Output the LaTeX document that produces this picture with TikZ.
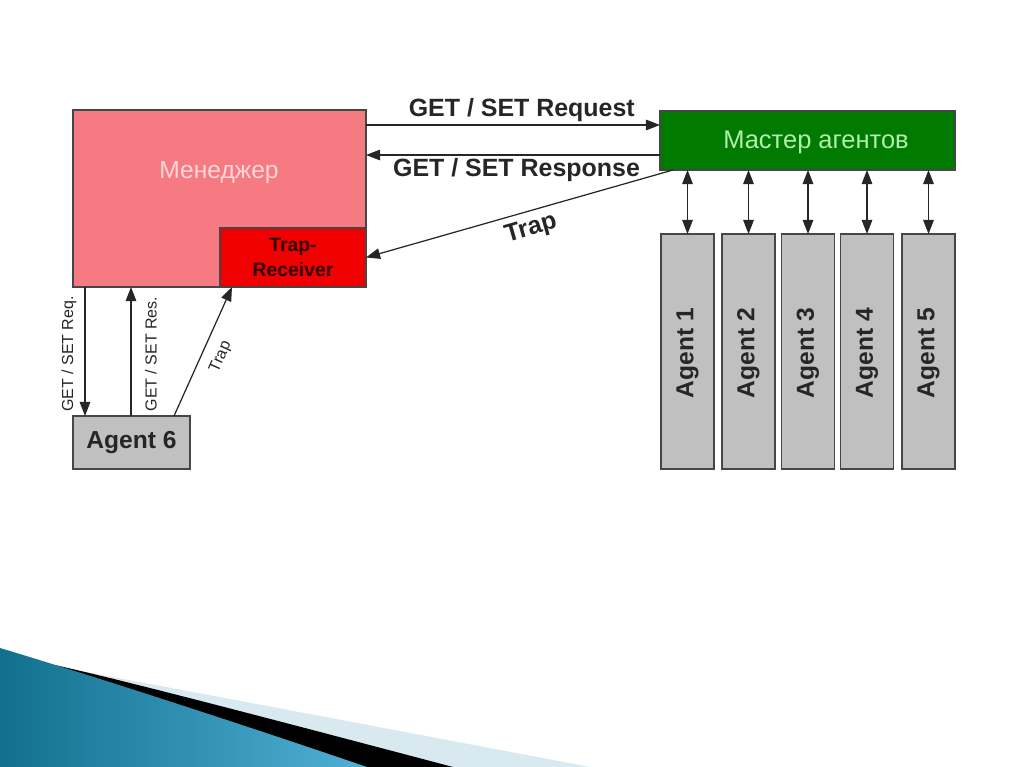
\documentclass[tikz,border=0pt]{standalone}
\usepackage{fontspec}
\setmainfont{Liberation Sans}
\usetikzlibrary{arrows.meta}
\definecolor{mgrpink}{RGB}{246,122,130}
\definecolor{trapred}{RGB}{240,0,0}
\definecolor{mastergreen}{RGB}{0,122,0}
\definecolor{agentgray}{RGB}{192,192,192}
\definecolor{edgegray}{RGB}{70,70,70}
\definecolor{pinktext}{RGB}{252,214,216}
\definecolor{greentext}{RGB}{176,240,170}
\definecolor{trecvtext}{RGB}{50,0,0}
\definecolor{swoopdark}{RGB}{18,112,142}
\definecolor{swooplight}{RGB}{80,176,212}
\definecolor{swooppale}{RGB}{216,234,240}
\tikzset{
  boxstyle/.style={draw=edgegray, line width=0.8pt, inner sep=0pt, outer sep=0pt},
  agentbox/.style={boxstyle, fill=agentgray, minimum width=53*0.02cm, minimum height=235*0.02cm},
  conn/.style={draw=black!85, line width=0.7pt, -{Triangle[length=8pt,width=6pt]}},
  dconn/.style={draw=black!85, line width=0.7pt, {Triangle[length=8pt,width=6pt]}-{Triangle[length=8pt,width=6pt]}},
  biglabel/.style={font=\bfseries\fontsize{14.2}{16}\selectfont, text=black!85},
  smalllabel/.style={font=\fontsize{9.1}{11}\selectfont, text=black!85},
  agentlabel/.style={font=\bfseries\fontsize{14}{16}\selectfont, text=black!85}
}
\begin{document}
\begin{tikzpicture}[x=0.02cm,y=-0.02cm]
\useasboundingbox[fill=white] (0,0) rectangle (1024,767);
% bottom decoration
\fill[swooppale] (70,669) .. controls (150,684) and (300,712) .. (590,767) -- (400,767) -- cycle;
\fill[black] (55,665) .. controls (130,682) and (260,716) .. (453,767) -- (360,767) -- cycle;
\shade[left color=swoopdark, right color=swooplight] (0,648) .. controls (100,678) and (250,727) .. (367,767) -- (0,767) -- cycle;
% manager
\node[boxstyle, fill=mgrpink, minimum width=293*0.02cm, minimum height=177*0.02cm, anchor=north west] (mgr) at (73,110) {};
\node[font=\fontsize{14}{16}\selectfont, text=pinktext] (mgrlabel) at (219,173) {Менеджер};
\node[boxstyle, fill=trapred, minimum width=146*0.02cm, minimum height=59*0.02cm, anchor=north west,
      font=\bfseries\fontsize{11}{14}\selectfont, text=trecvtext, align=center] (trecv) at (220,228) {Trap-\\Receiver};
% master
\node[boxstyle, fill=mastergreen, minimum width=295*0.02cm, minimum height=59*0.02cm, anchor=north west] (master) at (660,111) {};
\node[font=\fontsize{14.5}{16}\selectfont, text=greentext] (masterlabel) at (816,142) {Мастер агентов};
% agents 1-5
\foreach \i/\x in {1/687.5,2/748.5,3/808,4/867,5/928.5}{
  \node[agentbox, anchor=north] (a\i) at (\x,234) {};
  \node[agentlabel, rotate=90] (al\i) at (\x,353) {Agent \i};
  \draw[dconn] (master.south -| a\i.north) -- (a\i.north);
}
% agent 6
\node[boxstyle, fill=agentgray, minimum width=117*0.02cm, minimum height=53*0.02cm, anchor=north west,
      font=\bfseries\fontsize{14}{16}\selectfont, text=black!85] (a6) at (73,416) {Agent 6};
% manager <-> master
\coordinate (reqS) at (mgr.north east |- 0,125);
\coordinate (reqE) at (master.north west |- 0,125);
\draw[conn] (reqS) -- (reqE) node[midway, above=-2pt, xshift=5pt, biglabel] (reqlab) {GET / SET Request};
\coordinate (resS) at (master.north west |- 0,155);
\coordinate (resE) at (mgr.north east |- 0,155);
\draw[conn] (resS) -- (resE) node[midway, below=-2pt, xshift=2pt, biglabel] (reslab) {GET / SET Response};
\coordinate (trapS) at (673,170);
\coordinate (trapE) at (trecv.east);
\draw[conn] (trapS) -- (trapE);
\node[biglabel, rotate=16] (traplab) at (531,229) {Trap};
% manager <-> agent 6
\coordinate (rq1) at (85,287);
\coordinate (rq2) at (85,416);
\draw[conn] (rq1) -- (rq2);
\node[smalllabel, rotate=90] (rqlab) at (69,354) {GET / SET Req.};
\coordinate (rs1) at (131,416);
\coordinate (rs2) at (131,287);
\draw[conn] (rs1) -- (rs2);
\node[smalllabel, rotate=90] (rslab) at (151,354) {GET / SET Res.};
\coordinate (tp1) at (174,416);
\coordinate (tp2) at (232,287);
\draw[conn] (tp1) -- (tp2);
\node[smalllabel, rotate=66] (tplab) at (221,357) {Trap};
\end{tikzpicture}
\end{document}
